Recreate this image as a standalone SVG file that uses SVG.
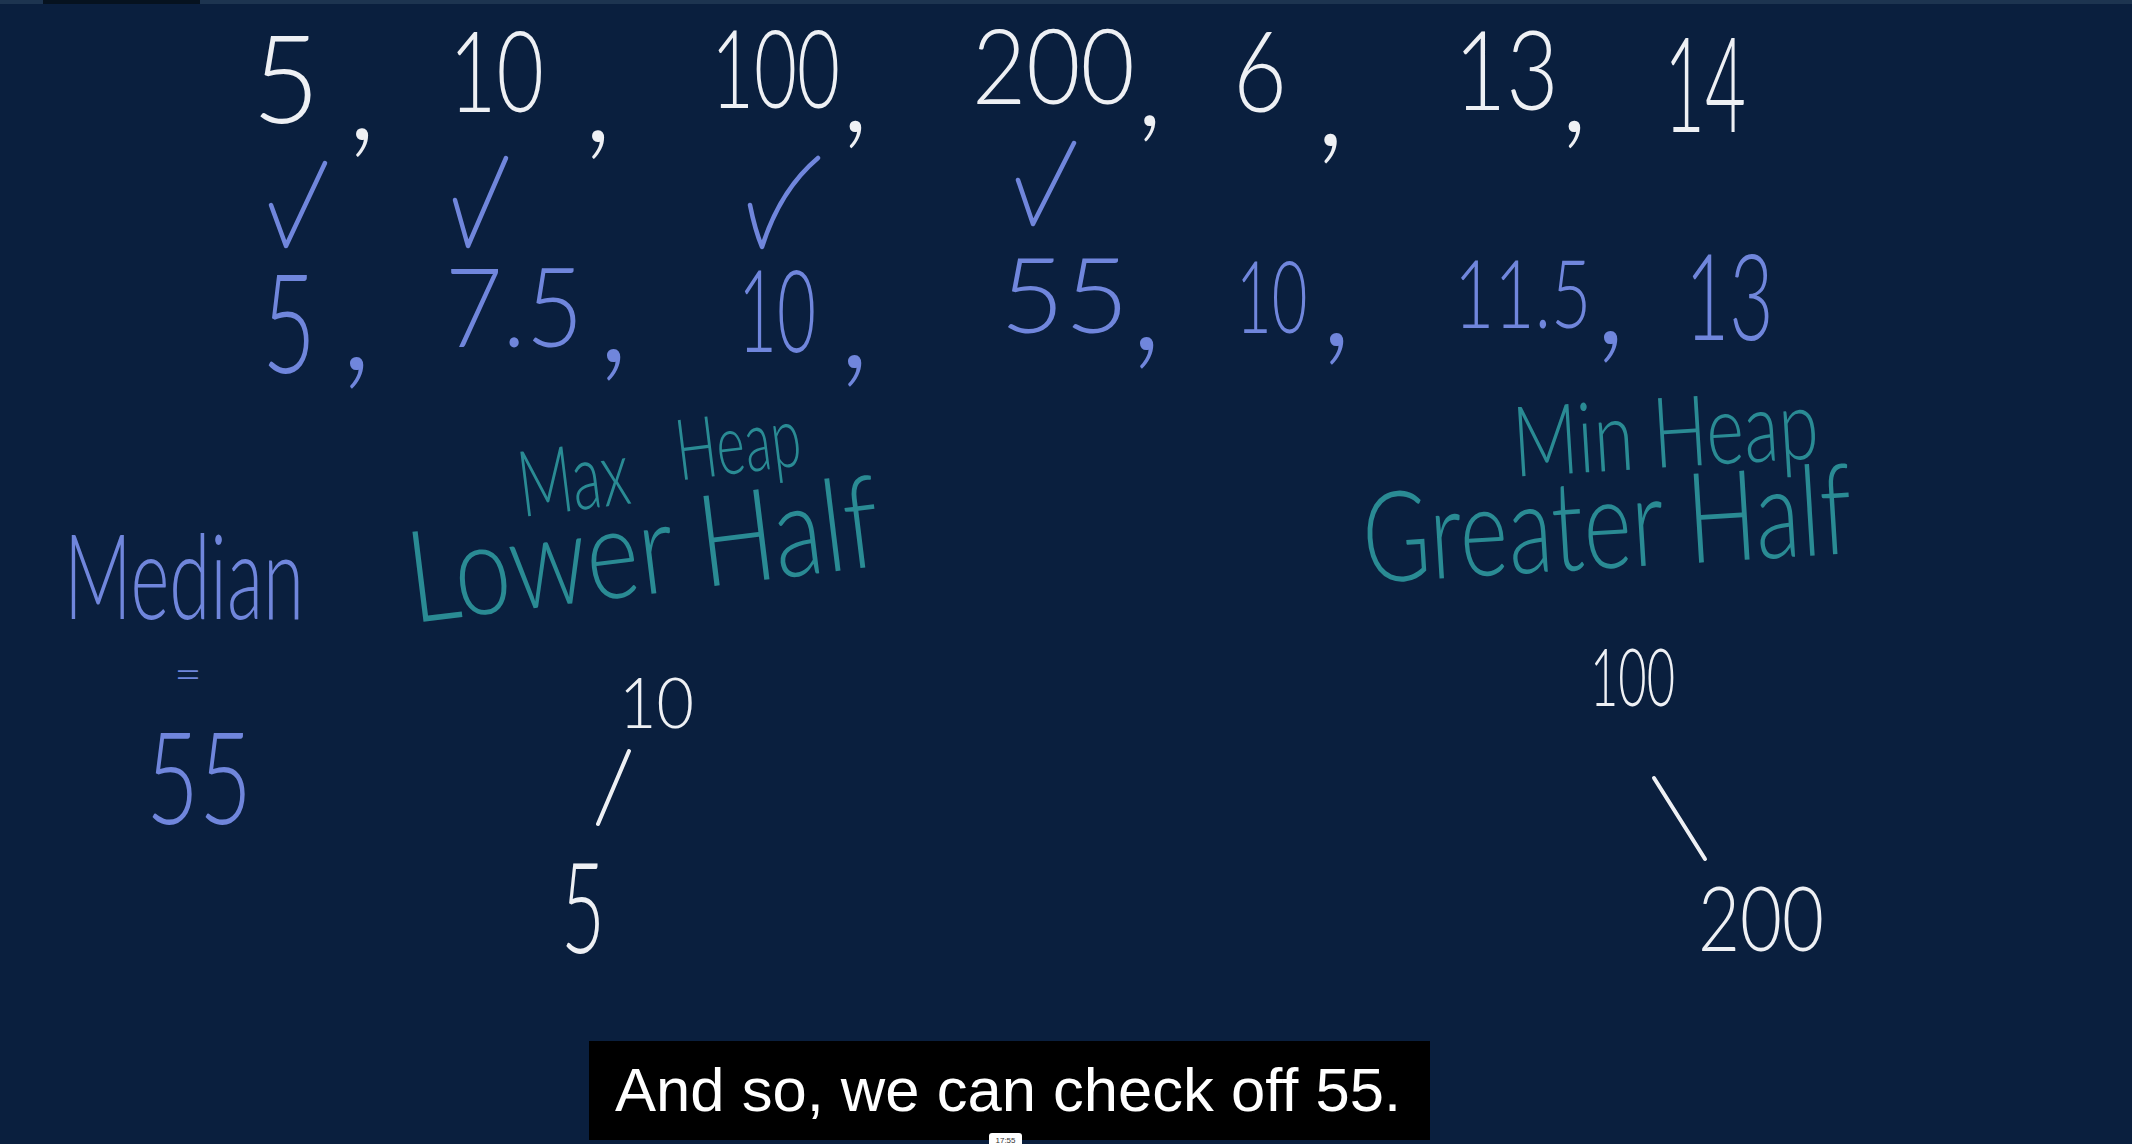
<svg xmlns="http://www.w3.org/2000/svg" width="2132" height="1144" viewBox="0 0 2132 1144">
<style>
.w{fill:#eef0f4;font-family:Lato,"Liberation Sans",sans-serif;font-weight:300}
.b{fill:#7086dc;font-family:Lato,"Liberation Sans",sans-serif;font-weight:300}
.t{fill:#2a8b94;font-family:Lato,"Liberation Sans",sans-serif;font-weight:300}
.chk{fill:none;stroke:#7086dc;stroke-width:4.5;stroke-linecap:round;stroke-linejoin:round}
.edge{stroke:#eef0f4;stroke-width:4;stroke-linecap:round}
.cap{fill:#ffffff;font-family:"Liberation Sans",Arial,sans-serif;font-size:61.5px}
</style>
<rect width="2132" height="1144" fill="#0a1f3e"/>
<rect x="0" y="0" width="2132" height="4" fill="#1d3450"/>
<rect x="43" y="0" width="157" height="4" fill="#06121f"/>

<g id="input-row">
<text class="w" font-size="122" transform="translate(252,123) scale(0.96,1)">5</text>
<text class="w" font-size="136" x="347" y="140">,</text>
<text class="w" font-size="112" transform="translate(449,112) scale(0.73,1)">10</text>
<text class="w" font-size="136" x="583" y="142">,</text>
<text class="w" font-size="108" transform="translate(711,108) scale(0.687,1)">100</text>
<text class="w" font-size="130" x="841" y="132">,</text>
<text class="w" font-size="104" transform="translate(972,104) scale(0.9,1)">200</text>
<text class="w" font-size="124" x="1136" y="126">,</text>
<text class="w" font-size="112" transform="translate(1233,112) scale(0.83,1)">6</text>
<text class="w" font-size="140" x="1315" y="146">,</text>
<text class="w" font-size="110" transform="translate(1454,110) scale(0.82,1)">13</text>
<text class="w" font-size="130" x="1560" y="132">,</text>
<text class="w" font-size="132" transform="translate(1664,132) scale(0.535,1)">14</text>
</g>

<g id="checks">
<polyline class="chk" points="271,205 286,246 325,163"/>
<polyline class="chk" points="455,200 468,246 506,158"/>
<path class="chk" d="M750,205 Q755,230 762,247 Q780,190 818,158"/>
<polyline class="chk" points="1018,180 1033,224 1074,143"/>
</g>

<g id="median-row">
<text class="b" font-size="139" transform="translate(262,373) scale(0.67,1)">5</text>
<text class="b" font-size="150" x="340" y="370">,</text>
<text class="b" font-size="111" transform="translate(445,347) scale(0.895,1)">7.5</text>
<text class="b" font-size="150" x="597" y="362">,</text>
<text class="b" font-size="114" transform="translate(738,352) scale(0.59,1)">10</text>
<text class="b" font-size="150" x="838" y="368">,</text>
<text class="b" font-size="104" transform="translate(1000,333) scale(1.07,1)">55</text>
<text class="b" font-size="150" x="1130" y="350">,</text>
<text class="b" font-size="101" transform="translate(1236,333) scale(0.61,1)">10</text>
<text class="b" font-size="150" x="1320" y="346">,</text>
<text class="b" font-size="94" transform="translate(1454,328) scale(0.74,1)">11.5</text>
<text class="b" font-size="150" x="1594" y="344">,</text>
<text class="b" font-size="121" transform="translate(1685,340) scale(0.63,1)">13</text>
</g>

<g id="median">
<text class="b">
<tspan x="64" y="619" font-size="119" textLength="240" lengthAdjust="spacingAndGlyphs">Median</tspan>
<tspan x="174" y="690" font-size="46" textLength="28" lengthAdjust="spacingAndGlyphs">=</tspan>
<tspan x="146" y="824" font-size="128" textLength="106" lengthAdjust="spacingAndGlyphs">55</tspan>
</text>
</g>

<g id="max-heap-label">
<text class="t" transform="translate(413,623) rotate(-7)">
<tspan x="121" y="-92" font-size="92" textLength="128" lengthAdjust="spacingAndGlyphs">Max </tspan><tspan x="282" y="-109" font-size="85" textLength="125" lengthAdjust="spacingAndGlyphs">Heap</tspan>
<tspan x="0" y="0" font-size="128" textLength="474" lengthAdjust="spacingAndGlyphs">Lower Half</tspan>
</text>
</g>

<g id="min-heap-label">
<text class="t" transform="translate(1365,583) rotate(-3.5)">
<tspan x="156" y="-97" font-size="98" textLength="306" lengthAdjust="spacingAndGlyphs">Min Heap</tspan>
<tspan x="0" y="0" font-size="126" textLength="490" lengthAdjust="spacingAndGlyphs">Greater Half</tspan>
</text>
</g>

<g id="connectors">
<line class="edge" x1="629" y1="751" x2="598" y2="824"/>
<line class="edge" x1="1654" y1="778" x2="1705" y2="859"/>
</g>

<g id="max-root"><text class="w" x="619" y="728" font-size="70" textLength="75" lengthAdjust="spacingAndGlyphs">10</text></g>
<g id="max-child"><text class="w" x="561" y="953" font-size="126" textLength="44" lengthAdjust="spacingAndGlyphs">5</text></g>
<g id="min-root"><text class="w" x="1590" y="706" font-size="80" textLength="85" lengthAdjust="spacingAndGlyphs">100</text></g>
<g id="min-child"><text class="w" x="1698" y="951" font-size="90" textLength="126" lengthAdjust="spacingAndGlyphs">200</text></g>

<g id="caption">
<rect x="589" y="1041" width="841" height="99" fill="#000000"/>
<text class="cap" x="615" y="1111" textLength="786" lengthAdjust="spacingAndGlyphs">And so, we can check off 55.</text>
<rect x="989" y="1133" width="33" height="14" rx="3" fill="#ffffff"/>
<text x="1005.5" y="1143" font-family="'Liberation Sans',sans-serif" font-size="8" fill="#333333" text-anchor="middle">17:55</text>
</g>
</svg>
